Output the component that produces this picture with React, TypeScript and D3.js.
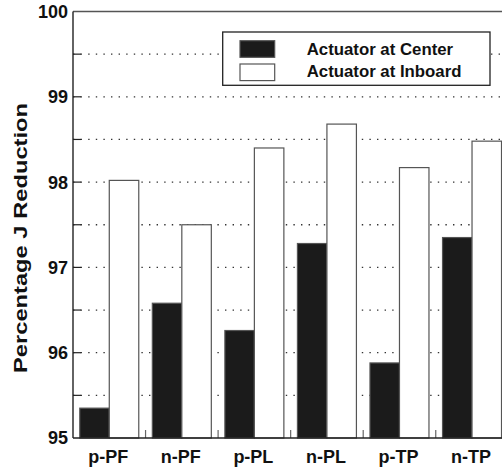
import React from "react";
import * as d3 from "d3";

// Percentage J reduction for each loading case, two actuator placements
const categories = ["p-PF", "n-PF", "p-PL", "n-PL", "p-TP", "n-TP"];
const seriesNames = ["Actuator at Center", "Actuator at Inboard"];
const centerValues = [95.35, 96.58, 96.26, 97.28, 95.88, 97.35];
const inboardValues = [98.02, 97.5, 98.4, 98.68, 98.17, 98.48];
const yTicks = [95, 96, 97, 98, 99, 100];
const yGridTicks = [95.5, 96, 96.5, 97, 97.5, 98, 98.5, 99, 99.5];

const W = 502;
const H = 469;
const plot = { left: 73, right: 508.3, top: 11.5, bottom: 438 };
const FONT = "'Liberation Sans', Arial, Helvetica, sans-serif";
const fills = ["#1b1b1b", "#ffffff"];

export default function App() {
  const x = d3
    .scaleBand<string>()
    .domain(categories)
    .range([plot.left, plot.right])
    .paddingInner(0)
    .paddingOuter(0);
  const xSub = d3
    .scaleBand<string>()
    .domain(seriesNames)
    .range([0, x.bandwidth()])
    .paddingInner(0)
    .paddingOuter(0.23);
  const y = d3.scaleLinear().domain([95, 100]).range([plot.bottom, plot.top]);

  const series = [centerValues, inboardValues];

  const legend = { x: 222.7, y: 32, w: 267.3, h: 53.3 };

  return (
    <div style={{ position: "fixed", left: 0, top: 0, width: W, height: H, background: "#fff" }}>
      <svg width={W} height={H} style={{ display: "block" }} fontFamily={FONT}>
        <rect x={0} y={0} width={W} height={H} fill="#fff" />

        {/* dotted gridlines */}
        {yGridTicks.map((t) => (
          <line
            key={"g" + t}
            x1={plot.left}
            x2={plot.right}
            y1={y(t)}
            y2={y(t)}
            stroke="#333"
            strokeWidth={1.3}
            strokeDasharray="1.4 6.2"
          />
        ))}
        {/* inward ticks on the y axis */}
        {yGridTicks.map((t) => (
          <line
            key={"t" + t}
            x1={plot.left}
            x2={plot.left + 8}
            y1={y(t)}
            y2={y(t)}
            stroke="#222"
            strokeWidth={1.2}
          />
        ))}

        {/* bars */}
        {categories.map((c, i) => (
          <g key={c} transform={`translate(${x(c)},0)`}>
            {seriesNames.map((s, k) => {
              const v = series[k][i];
              return (
                <rect
                  key={s}
                  x={xSub(s)}
                  y={y(v)}
                  width={xSub.bandwidth()}
                  height={plot.bottom - y(v)}
                  fill={fills[k]}
                  stroke="#555"
                  strokeWidth={1.2}
                />
              );
            })}
          </g>
        ))}

        {/* category separator ticks */}
        {categories.slice(1).map((c) => (
          <line
            key={"s" + c}
            x1={x(c)}
            x2={x(c)}
            y1={plot.bottom}
            y2={plot.bottom - 8}
            stroke="#666"
            strokeWidth={1.2}
          />
        ))}

        {/* frame */}
        <line x1={plot.left} x2={W} y1={plot.top} y2={plot.top} stroke="#555" strokeWidth={1.4} />
        <line x1={plot.left} x2={W} y1={plot.bottom} y2={plot.bottom} stroke="#222" strokeWidth={1.4} />
        <line x1={plot.left} x2={plot.left} y1={plot.top} y2={plot.bottom} stroke="#222" strokeWidth={1.4} />

        {/* y tick labels */}
        {yTicks.map((t) => (
          <text
            key={"l" + t}
            x={68}
            y={y(t)}
            dy="0.36em"
            textAnchor="end"
            fontSize={18}
            fontWeight="bold"
            fill="#111"
          >
            {t}
          </text>
        ))}

        {/* x tick labels */}
        {categories.map((c) => (
          <text
            key={"x" + c}
            x={(x(c) as number) + x.bandwidth() / 2 - 1}
            y={463}
            textAnchor="middle"
            fontSize={18}
            fontWeight="bold"
            fill="#111"
          >
            {c}
          </text>
        ))}

        {/* y axis title */}
        <text
          transform={`translate(27,238) rotate(-90)`}
          textAnchor="middle"
          fontSize={19}
          fontWeight="bold"
          fill="#111"
          textLength={270}
          lengthAdjust="spacingAndGlyphs"
        >
          Percentage J Reduction
        </text>

        {/* legend */}
        <rect
          x={legend.x}
          y={legend.y}
          width={legend.w}
          height={legend.h}
          fill="#fff"
          stroke="#222"
          strokeWidth={1.3}
        />
        {seriesNames.map((s, k) => (
          <g key={"lg" + s}>
            <rect
              x={240}
              y={40.7 + k * 23.3}
              width={34.7}
              height={16.6}
              fill={fills[k]}
              stroke="#555"
              strokeWidth={1.2}
            />
            <text
              x={306.7}
              y={55 + k * 21.7}
              fontSize={16.8}
              fontWeight="bold"
              fill="#111"
            >
              {s}
            </text>
          </g>
        ))}
      </svg>
    </div>
  );
}
